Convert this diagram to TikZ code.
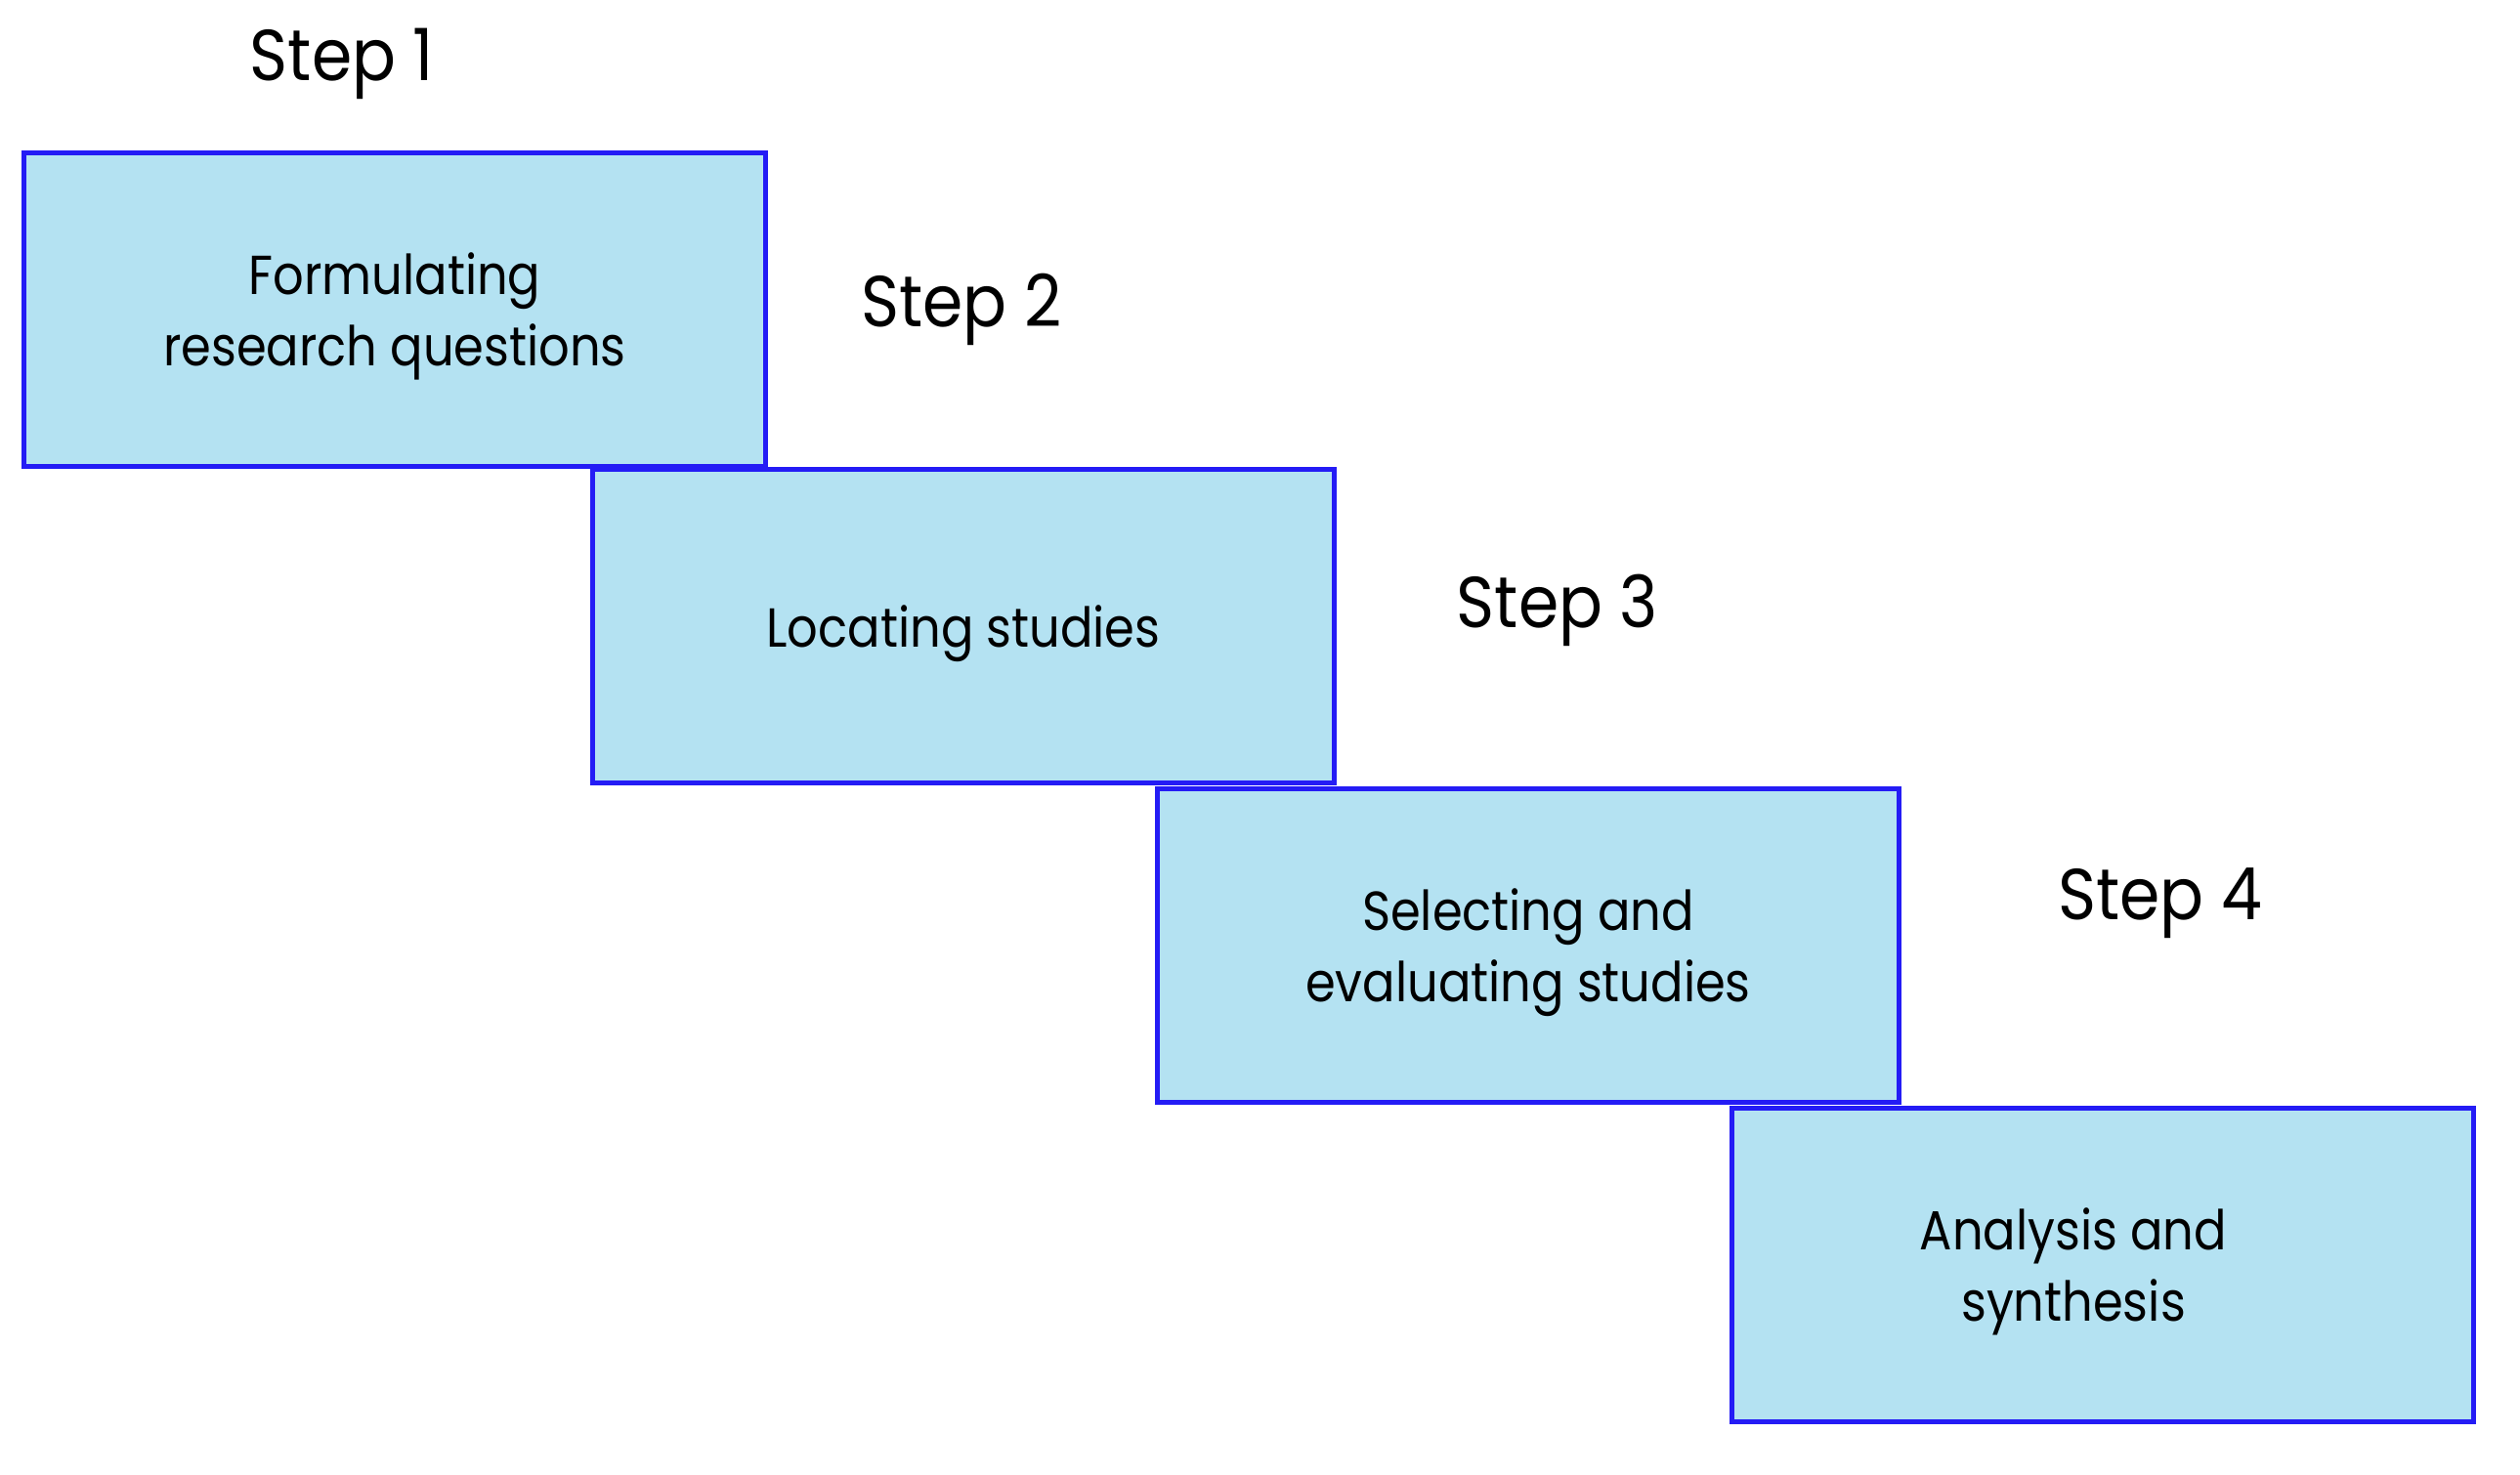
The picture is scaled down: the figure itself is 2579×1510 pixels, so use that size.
\documentclass[tikz,border=0pt]{standalone}
\usepackage{fontspec}
\setmainfont{Poppins}[FakeStretch=0.9]
\newfontfamily\boxfont{Poppins}[FakeStretch=0.88]
\definecolor{boxfill}{RGB}{180,226,242}
\definecolor{boxline}{RGB}{36,28,245}
\tikzset{
  stagebox/.style={draw=boxline, fill=boxfill, line width=1.4pt,
    minimum width=7.58cm, minimum height=3.2cm, align=center,
    font=\boxfont\fontsize{16}{20.8}\selectfont, inner sep=0pt,
    text depth=0pt},
  steplabel/.style={font=\fontsize{21}{25}\selectfont, inner sep=0pt}
}
\begin{document}
\begin{tikzpicture}[x=0.01cm, y=-0.01cm]
  \useasboundingbox (0,0) rectangle (2579,1510);

  % the four stages
  \node[stagebox] (formulate) at (404,317) {Formulating\\research questions};
  \node[stagebox] (locate) at (986,641) {Locating studies};
  \node[stagebox] (select) at (1564,968) {Selecting and\\evaluating studies};
  \node[stagebox] (analyse) at (2152,1295)
    {Analysis and\hspace*{0.6cm}\\synthesis\hspace*{0.6cm}};

  % step labels
  \node[steplabel] (stepone) at (350,65) {Step 1};
  \node[steplabel] (steptwo) at (984,317) {Step 2};
  \node[steplabel] (stepthree) at (1594,625) {Step 3};
  \node[steplabel] (stepfour) at (2211,925) {Step 4};
\end{tikzpicture}
\end{document}
